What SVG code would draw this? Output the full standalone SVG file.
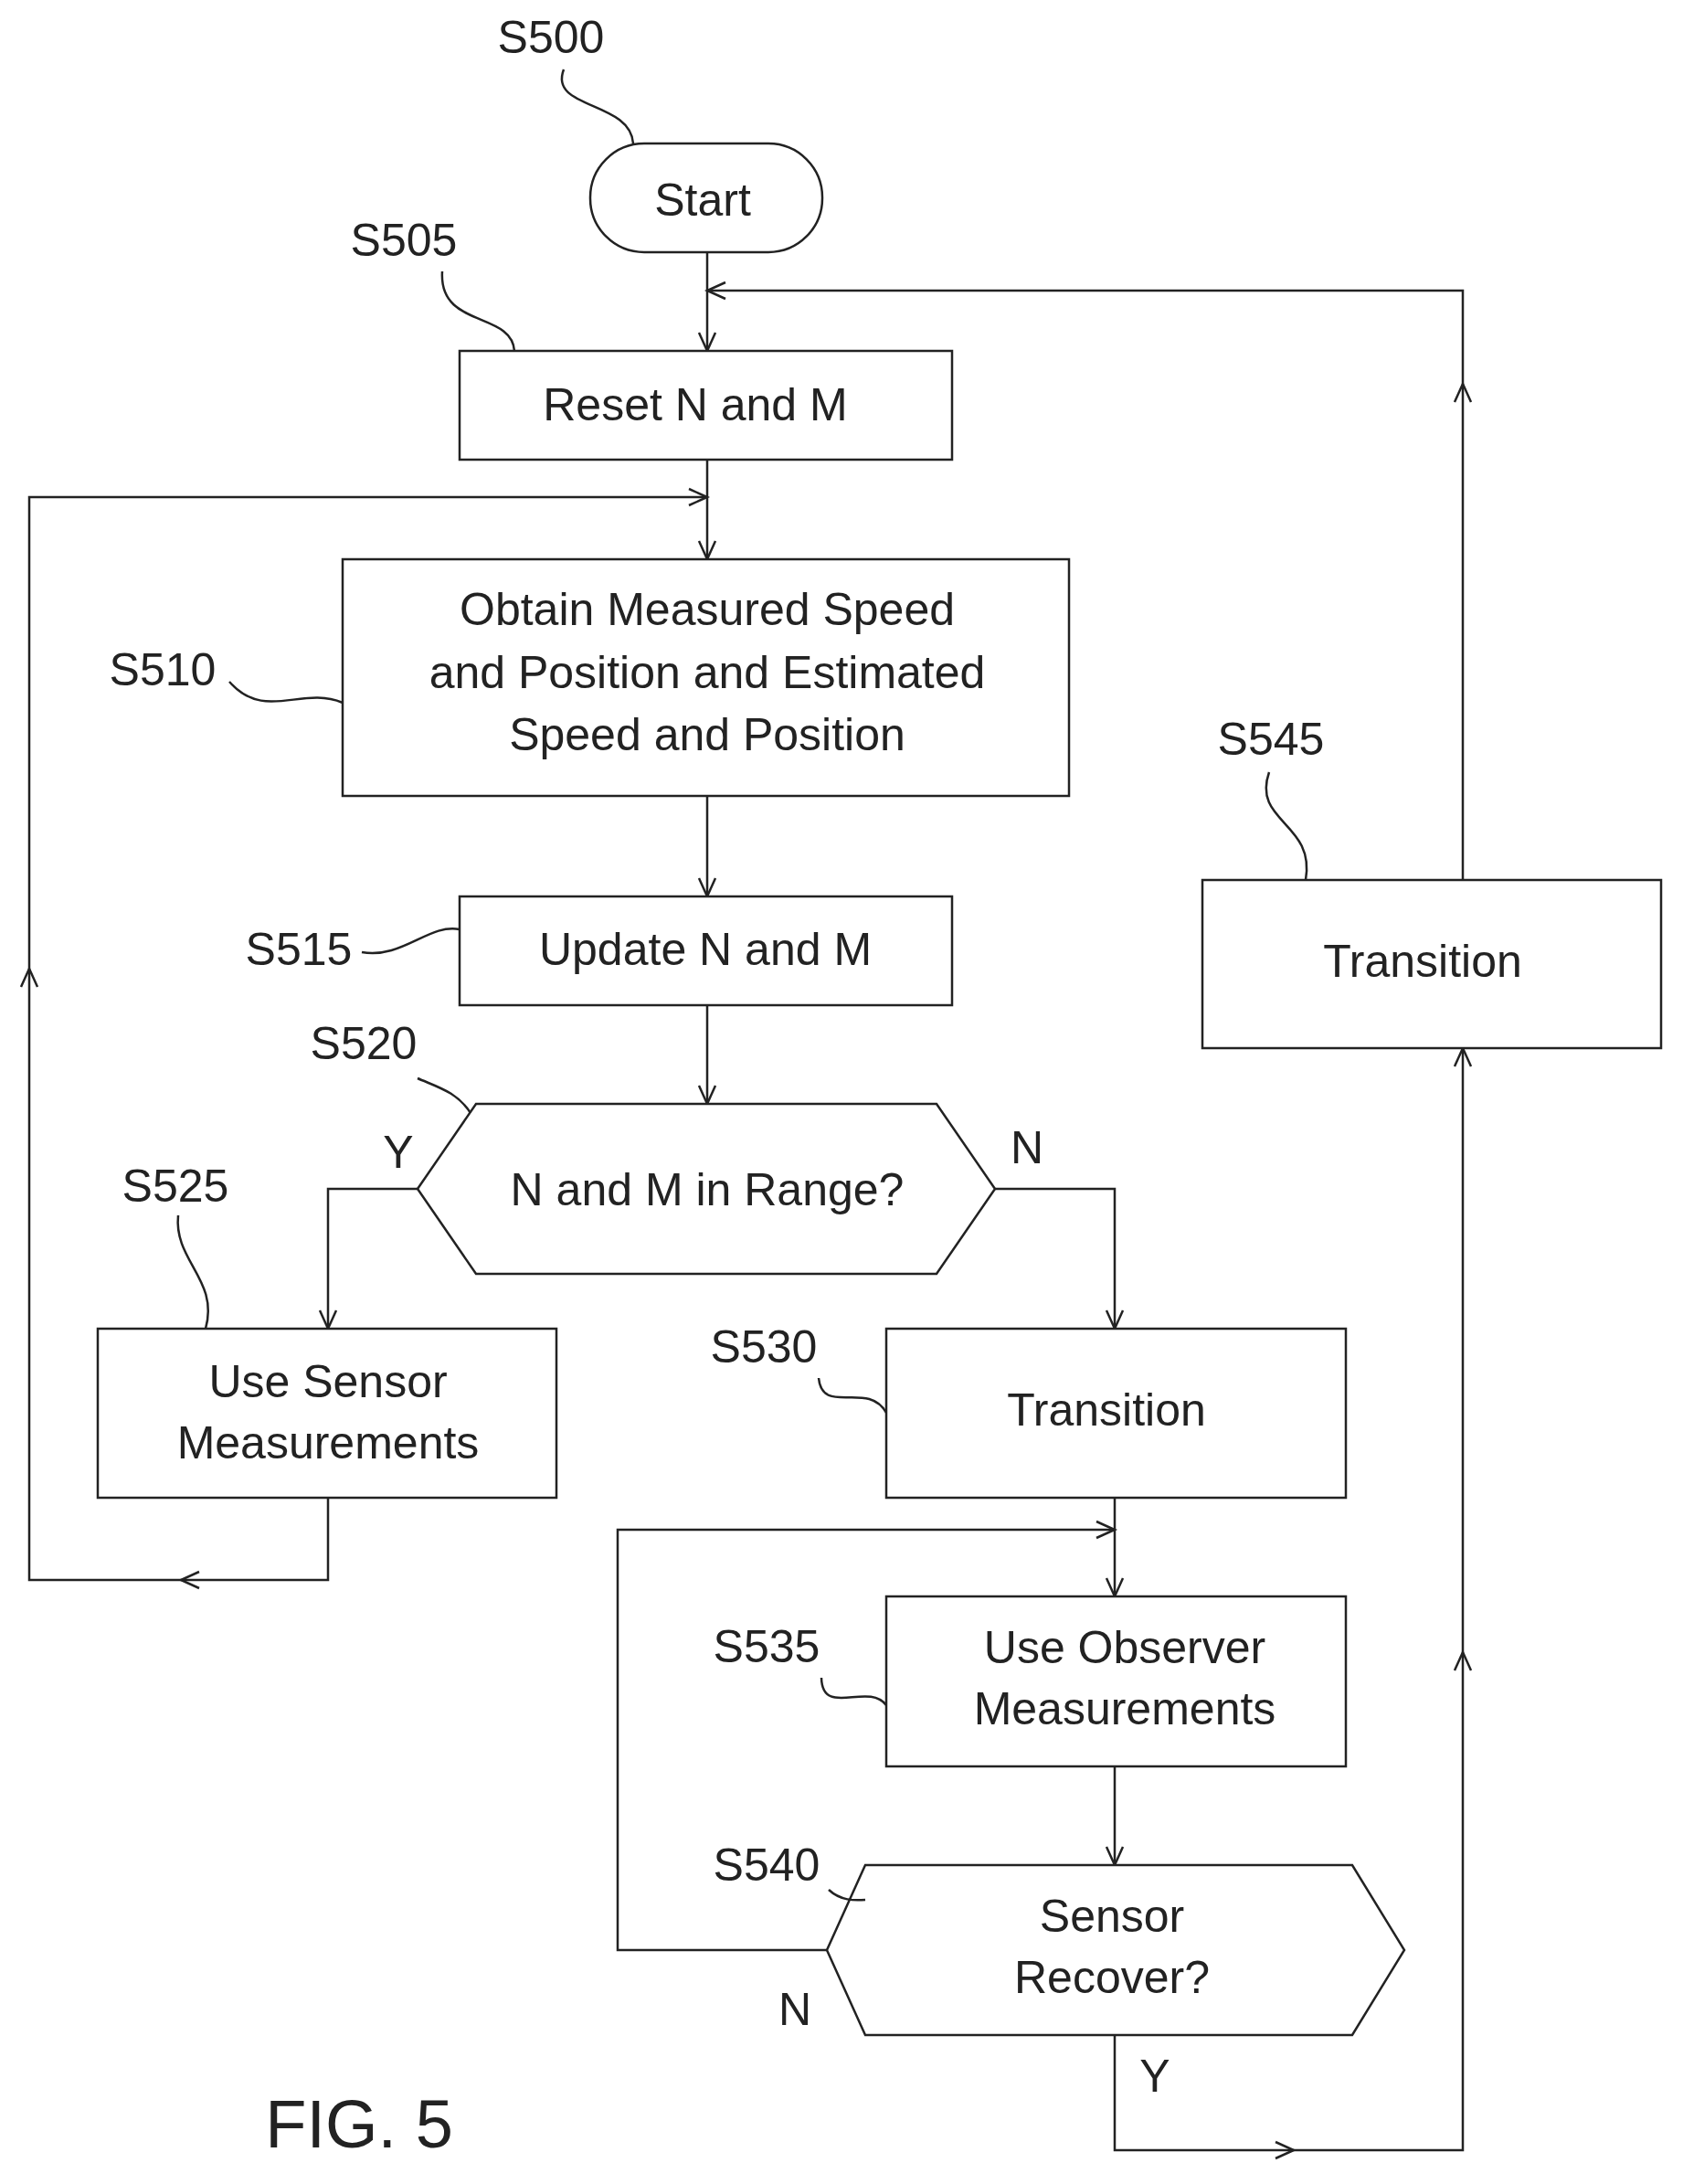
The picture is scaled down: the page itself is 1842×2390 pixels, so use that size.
<svg xmlns="http://www.w3.org/2000/svg" xmlns:xlink="http://www.w3.org/1999/xlink" width="1842" height="2390" viewBox="0 0 1842 2390">
<style>
.b{fill:#fff;stroke:#222;stroke-width:2.5}
.l{fill:none;stroke:#222;stroke-width:2.5}
.t{font-family:"Liberation Sans",Arial,sans-serif;font-size:50px;fill:#222;text-anchor:middle}
.lab{font-family:"Liberation Sans",Arial,sans-serif;font-size:50px;fill:#222;text-anchor:middle}
</style>
<defs><path id="ah" d="M-20,-9 L0,0 L-20,9" fill="none" stroke="#222" stroke-width="2.5"/></defs>
<rect width="1842" height="2390" fill="#fff"/>
<g id="connectors">
<path class="l" d="M774,276 V384 M774,503 V612 M774,871 V981 M774,1100 V1208"/>
<path class="l" d="M1601,963 V318 H774"/>
<path class="l" d="M359,1639 V1729 H32 V544 H774"/>
<path class="l" d="M457,1301 H359 V1454"/>
<path class="l" d="M1089,1301 H1220 V1454"/>
<path class="l" d="M1220,1639 V1747 M1220,1933 V2041"/>
<path class="l" d="M905,2134 H676 V1674 H1220"/>
<path class="l" d="M1220,2227 V2353 H1601 V1147"/>
<use xlink:href="#ah" transform="translate(774,384) rotate(90)"/>
<use xlink:href="#ah" transform="translate(774,612) rotate(90)"/>
<use xlink:href="#ah" transform="translate(774,981) rotate(90)"/>
<use xlink:href="#ah" transform="translate(774,1208) rotate(90)"/>
<use xlink:href="#ah" transform="translate(774,318) rotate(180)"/>
<use xlink:href="#ah" transform="translate(774,544)"/>
<use xlink:href="#ah" transform="translate(198,1729) rotate(180)"/>
<use xlink:href="#ah" transform="translate(32,1060) rotate(-90)"/>
<use xlink:href="#ah" transform="translate(359,1454) rotate(90)"/>
<use xlink:href="#ah" transform="translate(1220,1454) rotate(90)"/>
<use xlink:href="#ah" transform="translate(1220,1747) rotate(90)"/>
<use xlink:href="#ah" transform="translate(1220,2041) rotate(90)"/>
<use xlink:href="#ah" transform="translate(1220,1674)"/>
<use xlink:href="#ah" transform="translate(1416,2353)"/>
<use xlink:href="#ah" transform="translate(1601,1808) rotate(-90)"/>
<use xlink:href="#ah" transform="translate(1601,1147) rotate(-90)"/>
<use xlink:href="#ah" transform="translate(1601,420) rotate(-90)"/>
</g>
<g id="S500"><rect class="b" x="646" y="157" width="254" height="119" rx="59"/><text class="t" x="769" y="236">Start</text>
<text class="lab" x="603" y="58">S500</text><path class="l" d="M617,76 C600,120 690,110 693,157"/></g>
<g id="S505"><rect class="b" x="503" y="384" width="539" height="119"/><text class="t" x="761" y="460">Reset N and M</text>
<text class="lab" x="442" y="280">S505</text><path class="l" d="M484,297 C480,360 560,340 563,384"/></g>
<g id="S510"><rect class="b" x="375" y="612" width="795" height="259"/>
<text class="t" x="774" y="684">Obtain Measured Speed</text><text class="t" x="774" y="753">and Position and Estimated</text><text class="t" x="774" y="821">Speed and Position</text>
<text class="lab" x="178" y="750">S510</text><path class="l" d="M251,746 C290,790 330,750 375,769"/></g>
<g id="S515"><rect class="b" x="503" y="981" width="539" height="119"/><text class="t" x="772" y="1056">Update N and M</text>
<text class="lab" x="327" y="1056">S515</text><path class="l" d="M396,1042 C440,1050 470,1010 503,1017"/></g>
<g id="S520"><polygon class="b" points="457,1301 521,1208 1025,1208 1089,1301 1025,1394 521,1394"/><text class="t" x="774" y="1319">N and M in Range?</text>
<text class="lab" x="398" y="1159">S520</text><path class="l" d="M457,1180 C480,1190 500,1195 515,1218"/>
<text class="lab" x="436" y="1278">Y</text><text class="lab" x="1124" y="1273">N</text></g>
<g id="S525"><rect class="b" x="107" y="1454" width="502" height="185"/>
<text class="t" x="359" y="1529">Use Sensor</text><text class="t" x="359" y="1596">Measurements</text>
<text class="lab" x="192" y="1315">S525</text><path class="l" d="M195,1330 C190,1380 240,1400 225,1454"/></g>
<g id="S530"><rect class="b" x="970" y="1454" width="503" height="185"/><text class="t" x="1211" y="1560">Transition</text>
<text class="lab" x="836" y="1491">S530</text><path class="l" d="M896,1508 C900,1550 950,1510 970,1546"/></g>
<g id="S535"><rect class="b" x="970" y="1747" width="503" height="186"/>
<text class="t" x="1231" y="1820">Use Observer</text><text class="t" x="1231" y="1887">Measurements</text>
<text class="lab" x="839" y="1819">S535</text><path class="l" d="M899,1836 C900,1880 950,1840 970,1866"/></g>
<g id="S540"><polygon class="b" points="905,2134 947,2041 1480,2041 1537,2134 1480,2227 947,2227"/>
<text class="t" x="1217" y="2114">Sensor</text><text class="t" x="1217" y="2181">Recover?</text>
<text class="lab" x="839" y="2058">S540</text><path class="l" d="M907,2068 C920,2080 935,2080 947,2079"/>
<text class="lab" x="870" y="2216">N</text><text class="lab" x="1264" y="2289">Y</text></g>
<g id="S545"><rect class="b" x="1316" y="963" width="502" height="184"/><text class="t" x="1557" y="1069">Transition</text>
<text class="lab" x="1391" y="826">S545</text><path class="l" d="M1389,845 C1370,900 1440,900 1429,963"/></g>
<text class="lab" x="393" y="2350" style="font-size:74px">FIG. 5</text>
</svg>
